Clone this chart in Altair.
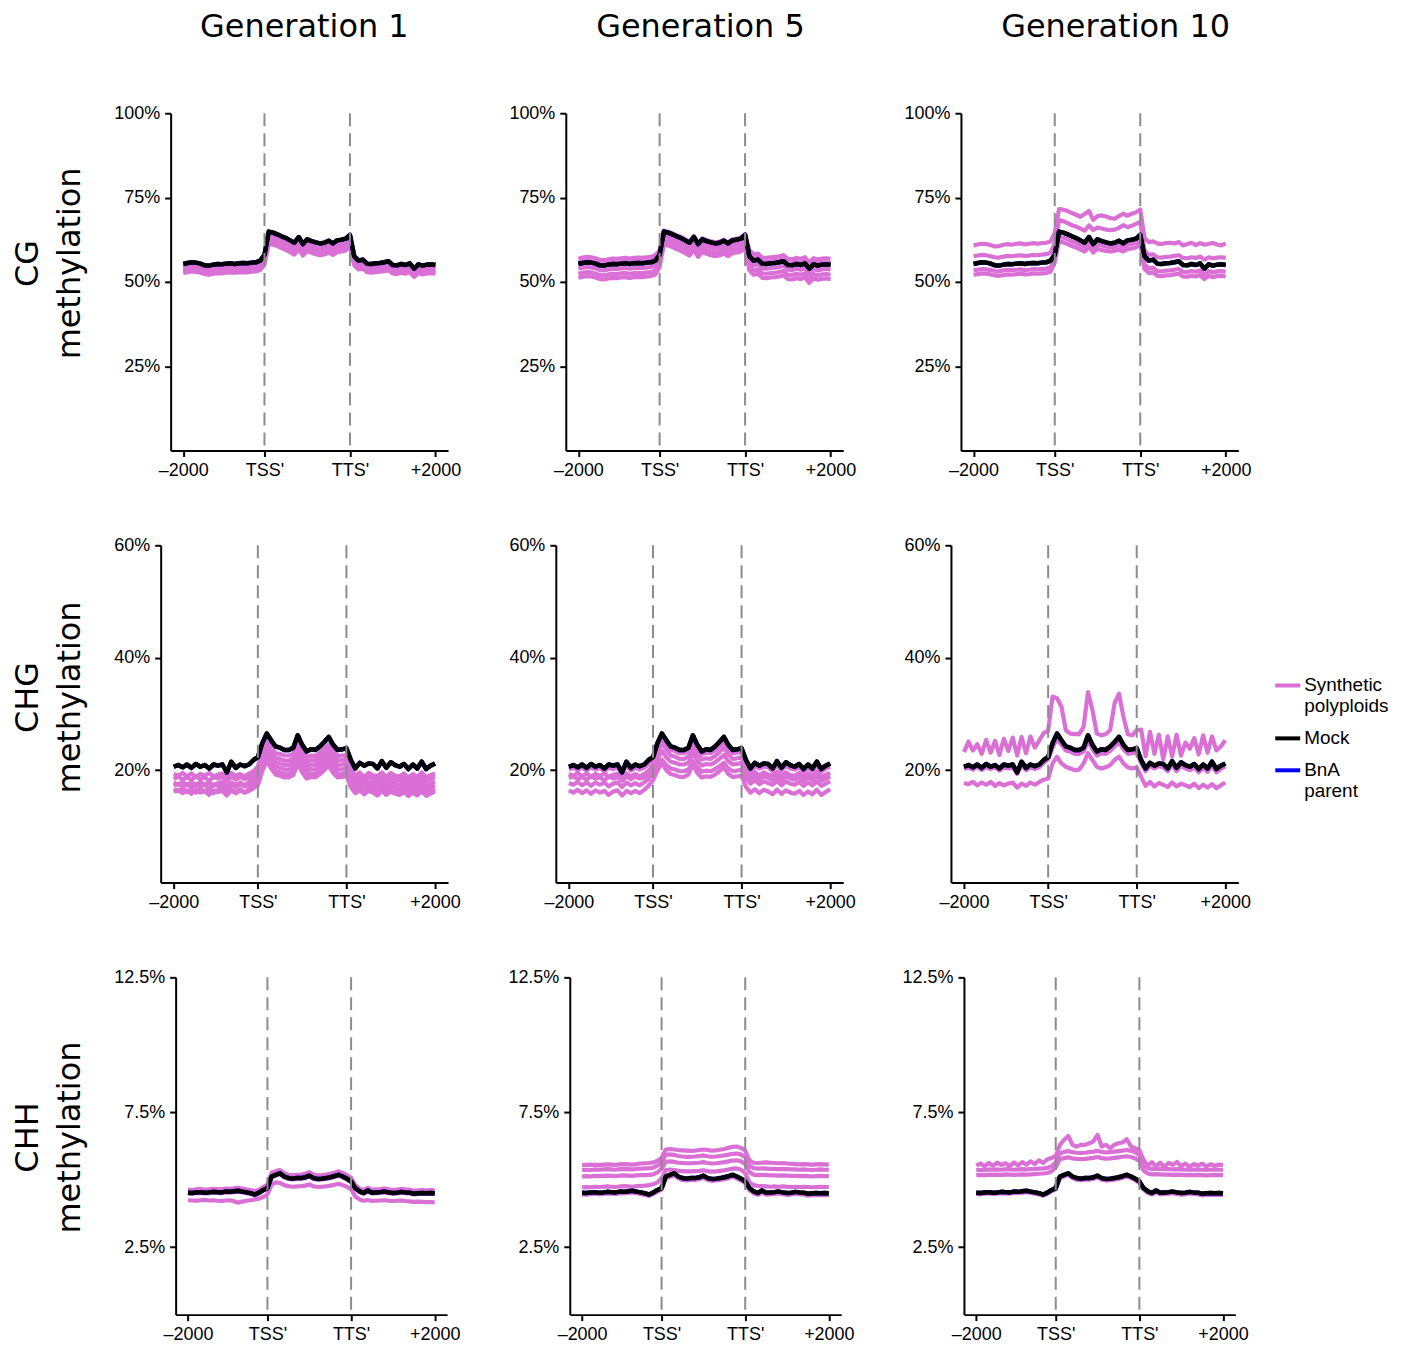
import altair as alt
import pandas as pd

# ---------------- categories / labels ----------------
contexts = ["CG", "CHG", "CHH"]
generations = ["Generation 1", "Generation 5", "Generation 10"]
groups = ["Synthetic polyploids", "Mock", "BnA parent"]
group_colors = ["#DA70D6", "#000000", "#0000FF"]
row_titles = {"CG": ["CG", "methylation"], "CHG": ["CHG", "methylation"], "CHH": ["CHH", "methylation"]}
x_tick_bins = [1, 20, 40, 60]
x_tick_labels = ["\u20132000", "TSS'", "TTS'", "+2000"]
boundary_bins = [20, 40]
y_domains = {"CG": [0, 100], "CHG": [0, 60], "CHH": [0, 12.5]}
y_ticks = {"CG": [25, 50, 75, 100], "CHG": [20, 40, 60], "CHH": [2.5, 7.5, 12.5]}

# ---------------- Mock (same in every generation) ----------------
mock_cg = [55.3, 55.6, 55.8, 55.7, 55.4, 54.9, 54.8, 55.1, 55.3, 55.2, 55.4, 55.5, 55.3, 55.5, 55.6, 55.5, 55.7, 55.8, 56.3,
           58.0,
           64.9, 64.6, 64.1, 63.5, 63.0, 62.3, 61.6, 63.3, 61.2, 62.6, 62.1, 61.7, 61.4, 61.6, 62.2, 61.4, 62.3, 62.5, 62.8,
           63.9,
           57.6, 56.3, 56.6, 55.4, 55.3, 55.5, 55.6, 55.8, 56.1, 55.0, 54.9, 55.3, 55.0, 55.5, 53.9, 55.2, 54.8, 55.1, 55.2, 55.0]
mock_chg = [20.6, 20.9, 20.5, 21.0, 20.4, 21.1, 20.6, 20.9, 20.3, 21.0, 20.8, 21.0, 19.6, 21.5, 20.4, 21.0, 20.7, 21.0, 21.8,
            22.3,
            24.8, 26.5, 25.3, 24.2, 24.0, 23.6, 23.6, 24.0, 26.2, 24.5, 23.3, 23.7, 23.6, 24.2, 25.0, 25.9, 24.5, 23.6, 23.7,
            23.9,
            21.8, 20.3, 21.3, 20.8, 21.2, 21.1, 20.3, 21.6, 20.4, 21.4, 20.9, 20.6, 21.1, 20.2, 21.0, 20.3, 21.5, 20.2, 20.8, 21.2]
mock_chh = [4.52, 4.51, 4.53, 4.54, 4.52, 4.53, 4.55, 4.54, 4.53, 4.56, 4.55, 4.57, 4.59, 4.56, 4.53, 4.50, 4.45, 4.52, 4.62,
            4.69,
            5.12, 5.18, 5.24, 5.12, 5.06, 5.04, 5.06, 5.06, 5.09, 5.15, 5.06, 5.03, 5.04, 5.06, 5.09, 5.13, 5.18, 5.12, 5.04,
            4.94,
            4.69, 4.57, 4.51, 4.60, 4.52, 4.53, 4.54, 4.56, 4.53, 4.51, 4.52, 4.55, 4.53, 4.52, 4.48, 4.50, 4.51, 4.50, 4.51, 4.50]

# BnA parent reads identical to Mock (hidden beneath it)
bna_cg = mock_cg
bna_chg = mock_chg
bna_chh = mock_chh

# ---------------- Synthetic polyploids: CG ----------------
syn_cg_g1 = [
    [54.1, 54.4, 54.5, 54.5, 54.2, 53.8, 53.6, 53.9, 54.1, 54.0, 54.2, 54.3, 54.2, 54.3, 54.4, 54.3, 54.5, 54.6, 55.0,
     57.0,
     63.8, 63.4, 62.8, 62.2, 61.7, 61.0, 60.3, 61.9, 60.0, 61.3, 60.8, 60.4, 60.1, 60.3, 60.9, 60.2, 61.0, 61.2, 61.5,
     62.6,
     56.5, 55.3, 55.5, 54.5, 54.3, 54.5, 54.6, 54.8, 55.0, 54.1, 53.9, 54.3, 54.0, 54.5, 53.1, 54.2, 53.8, 54.1, 54.2, 54.0],
    [53.6, 53.9, 54.1, 54.0, 53.7, 53.3, 53.1, 53.4, 53.6, 53.5, 53.7, 53.8, 53.7, 53.8, 53.9, 53.8, 54.0, 54.1, 54.5,
     56.4,
     63.0, 62.5, 62.0, 61.4, 60.9, 60.2, 59.5, 61.1, 59.2, 60.5, 60.0, 59.6, 59.3, 59.5, 60.1, 59.4, 60.2, 60.4, 60.7,
     61.8,
     55.9, 54.7, 54.9, 53.9, 53.7, 53.9, 54.0, 54.2, 54.4, 53.5, 53.3, 53.7, 53.4, 53.9, 52.5, 53.6, 53.2, 53.5, 53.6, 53.4],
    [53.1, 53.4, 53.6, 53.5, 53.2, 52.8, 52.6, 52.9, 53.1, 53.0, 53.2, 53.3, 53.2, 53.3, 53.4, 53.3, 53.5, 53.6, 54.0,
     55.8,
     62.2, 61.8, 61.3, 60.7, 60.2, 59.5, 58.8, 60.4, 58.5, 59.8, 59.3, 58.9, 58.6, 58.8, 59.4, 58.7, 59.5, 59.7, 60.0,
     61.1,
     55.4, 54.2, 54.4, 53.4, 53.2, 53.4, 53.5, 53.7, 53.9, 53.0, 52.8, 53.2, 52.9, 53.4, 52.0, 53.1, 52.7, 53.0, 53.1, 52.9],
    [52.6, 52.9, 53.1, 53.0, 52.7, 52.3, 52.1, 52.4, 52.6, 52.5, 52.7, 52.8, 52.7, 52.8, 52.9, 52.8, 53.0, 53.1, 53.5,
     55.1,
     61.3, 61.0, 60.6, 60.0, 59.5, 58.8, 58.1, 59.7, 57.8, 59.1, 58.6, 58.2, 57.9, 58.1, 58.7, 58.0, 58.8, 59.0, 59.3,
     60.4,
     54.9, 53.7, 53.9, 52.9, 52.7, 52.9, 53.0, 53.2, 53.4, 52.5, 52.3, 52.7, 52.4, 52.9, 51.5, 52.6, 52.2, 52.5, 52.6, 52.4],
]
syn_cg_g5 = [
    [56.9, 57.2, 57.4, 57.3, 57.0, 56.5, 56.4, 56.7, 56.9, 56.8, 57.0, 57.1, 56.9, 57.1, 57.2, 57.1, 57.3, 57.4, 57.9,
     59.3,
     65.2, 64.9, 64.4, 63.8, 63.3, 62.6, 61.9, 63.6, 61.5, 62.9, 62.4, 62.0, 61.7, 61.9, 62.5, 61.7, 62.6, 62.8, 63.1,
     64.2,
     59.4, 58.1, 58.4, 57.2, 57.1, 57.3, 57.4, 57.6, 57.9, 56.8, 56.7, 57.1, 56.8, 57.3, 55.7, 57.0, 56.6, 56.9, 57.0, 56.8],
    [55.7, 56.0, 56.2, 56.1, 55.8, 55.3, 55.2, 55.5, 55.7, 55.6, 55.8, 55.9, 55.7, 55.9, 56.0, 55.9, 56.1, 56.2, 56.7,
     58.6,
     64.4, 64.1, 63.6, 63.0, 62.5, 61.8, 61.1, 62.8, 60.7, 62.1, 61.6, 61.2, 60.9, 61.1, 61.7, 60.9, 61.8, 62.0, 62.3,
     63.4,
     58.2, 56.9, 57.2, 56.0, 55.9, 56.1, 56.2, 56.4, 56.7, 55.6, 55.5, 55.9, 55.6, 56.1, 54.5, 55.8, 55.4, 55.7, 55.8, 55.6],
    [53.9, 54.2, 54.4, 54.3, 54.0, 53.5, 53.4, 53.7, 53.9, 53.8, 54.0, 54.1, 53.9, 54.1, 54.2, 54.1, 54.3, 54.4, 54.9,
     56.8,
     63.4, 63.1, 62.6, 62.0, 61.5, 60.8, 60.1, 61.8, 59.7, 61.1, 60.6, 60.2, 59.9, 60.1, 60.7, 59.9, 60.8, 61.0, 61.3,
     62.4,
     56.2, 54.9, 55.2, 54.0, 53.9, 54.1, 54.2, 54.4, 54.7, 53.6, 53.5, 53.9, 53.6, 54.1, 52.5, 53.8, 53.4, 53.7, 53.8, 53.6],
    [52.4, 52.7, 52.9, 52.8, 52.5, 52.0, 51.9, 52.2, 52.4, 52.3, 52.5, 52.6, 52.4, 52.6, 52.7, 52.6, 52.8, 52.9, 53.4,
     55.6,
     62.2, 61.9, 61.4, 60.8, 60.3, 59.6, 58.9, 60.6, 58.5, 59.9, 59.4, 59.0, 58.7, 58.9, 59.5, 58.7, 59.6, 59.8, 60.1,
     61.2,
     54.7, 53.4, 53.7, 52.5, 52.4, 52.6, 52.7, 52.9, 53.2, 52.1, 52.0, 52.4, 52.1, 52.6, 51.0, 52.3, 51.9, 52.2, 52.3, 52.1],
    [51.2, 51.5, 51.7, 51.6, 51.3, 50.8, 50.7, 51.0, 51.2, 51.1, 51.3, 51.4, 51.2, 51.4, 51.5, 51.4, 51.6, 51.7, 52.2,
     54.4,
     61.1, 60.8, 60.3, 59.7, 59.2, 58.5, 57.8, 59.5, 57.4, 58.8, 58.3, 57.9, 57.6, 57.8, 58.4, 57.6, 58.5, 58.7, 59.0,
     60.1,
     53.4, 52.1, 52.4, 51.2, 51.1, 51.3, 51.4, 51.6, 51.9, 50.8, 50.7, 51.1, 50.8, 51.3, 49.7, 51.0, 50.6, 50.9, 51.0, 50.8],
]
syn_cg_g10 = [
    [60.8, 61.1, 61.3, 61.2, 60.9, 60.5, 60.6, 61.0, 61.2, 61.0, 61.3, 61.4, 61.1, 61.3, 61.5, 61.3, 61.5, 61.6, 62.0,
     64.5,
     71.6, 71.4, 71.0, 70.4, 69.9, 69.3, 70.1, 71.0, 68.4, 69.5, 69.7, 69.4, 68.9, 68.7, 69.5, 70.2, 69.6, 70.2, 70.6,
     71.5,
     63.0, 61.8, 62.0, 61.4, 61.2, 61.5, 61.6, 61.4, 61.8, 60.8, 61.2, 61.6, 60.9, 61.5, 61.0, 61.3, 61.5, 61.1, 60.8, 61.4],
    [57.6, 57.8, 58.0, 57.9, 57.6, 57.3, 57.2, 57.5, 57.7, 57.6, 57.8, 57.9, 57.7, 57.8, 58.0, 57.9, 58.1, 58.2, 58.6,
     61.5,
     68.3, 68.0, 67.4, 66.8, 66.4, 65.8, 65.2, 66.7, 65.4, 66.1, 65.8, 65.5, 65.3, 65.5, 66.0, 66.8, 66.2, 66.6, 67.2,
     67.8,
     59.2, 58.0, 58.2, 57.3, 57.2, 57.4, 57.5, 57.7, 57.9, 57.1, 57.0, 57.3, 57.1, 57.5, 56.6, 57.3, 57.0, 57.2, 57.3, 57.1],
    [53.4, 53.6, 53.8, 53.7, 53.5, 53.2, 53.1, 53.4, 53.6, 53.5, 53.6, 53.7, 53.5, 53.6, 53.8, 53.7, 53.8, 53.9, 54.3,
     56.8,
     63.4, 63.1, 62.6, 62.0, 61.6, 61.0, 60.4, 61.8, 60.0, 61.2, 60.8, 60.5, 60.2, 60.4, 60.9, 60.3, 61.0, 61.2, 61.5,
     62.6,
     55.2, 54.0, 54.2, 53.2, 53.1, 53.3, 53.4, 53.6, 53.8, 53.0, 52.9, 53.2, 53.0, 53.4, 52.2, 53.2, 52.8, 53.1, 53.2, 53.0],
    [52.1, 52.3, 52.5, 52.4, 52.2, 51.9, 51.8, 52.0, 52.2, 52.1, 52.3, 52.4, 52.2, 52.3, 52.5, 52.4, 52.5, 52.6, 53.0,
     55.8,
     62.0, 61.7, 61.2, 60.6, 60.2, 59.6, 59.0, 60.4, 58.7, 59.8, 59.4, 59.2, 59.0, 59.2, 59.6, 59.0, 59.7, 59.9, 60.2,
     61.3,
     53.8, 52.6, 52.8, 51.8, 51.7, 51.9, 52.0, 52.2, 52.4, 51.6, 51.5, 51.8, 51.6, 52.0, 50.8, 51.8, 51.4, 51.7, 51.8, 51.6],
]

# ---------------- Synthetic polyploids: CHG ----------------
syn_chg_g1 = [
    [19.3, 19.0, 19.5, 18.9, 19.4, 18.8, 19.3, 19.0, 19.5, 18.9, 19.2, 19.4, 18.7, 19.5, 19.0, 19.3, 18.9, 19.4, 19.8,
     20.6,
     23.6, 25.2, 24.0, 23.0, 22.9, 22.6, 22.6, 22.9, 25.0, 23.4, 22.3, 22.6, 22.5, 23.1, 23.9, 24.6, 23.3, 22.5, 22.6,
     22.7,
     20.2, 19.0, 19.6, 18.8, 19.5, 19.1, 18.9, 19.6, 18.8, 19.5, 19.0, 18.9, 19.4, 18.7, 19.3, 18.8, 19.6, 18.7, 19.1, 19.4],
    [18.4, 18.9, 18.3, 18.8, 18.2, 18.9, 18.4, 18.7, 18.1, 18.8, 18.5, 18.8, 18.0, 18.9, 18.3, 18.8, 18.4, 18.7, 19.2,
     20.0,
     22.8, 24.6, 23.3, 22.2, 22.0, 21.7, 21.7, 22.1, 24.2, 22.6, 21.5, 21.8, 21.7, 22.3, 23.1, 23.9, 22.5, 21.7, 21.8,
     22.0,
     19.4, 18.3, 18.9, 18.2, 18.8, 18.5, 18.1, 18.9, 18.2, 18.8, 18.3, 18.2, 18.7, 18.0, 18.6, 18.1, 18.9, 18.0, 18.4, 18.8],
    [17.8, 17.4, 17.9, 17.3, 17.8, 17.2, 17.9, 17.4, 17.8, 17.2, 17.7, 17.9, 17.1, 17.8, 17.4, 17.8, 17.3, 17.9, 18.4,
     19.3,
     22.0, 23.9, 22.5, 21.4, 21.2, 20.9, 20.9, 21.3, 23.5, 21.8, 20.7, 21.0, 20.9, 21.5, 22.3, 23.1, 21.7, 20.9, 21.0,
     21.2,
     18.8, 17.5, 18.2, 17.6, 18.0, 17.7, 17.4, 18.1, 17.3, 18.0, 17.6, 17.4, 17.9, 17.2, 17.8, 17.3, 18.1, 17.2, 17.6, 18.0],
    [17.2, 17.6, 17.0, 17.5, 16.9, 17.6, 17.1, 17.4, 16.7, 17.5, 17.2, 17.4, 16.6, 17.5, 17.0, 17.5, 17.1, 17.4, 17.9,
     18.6,
     21.2, 23.2, 21.8, 20.6, 20.4, 20.1, 20.1, 20.5, 22.7, 21.0, 19.9, 20.2, 20.1, 20.7, 21.5, 22.4, 21.0, 20.1, 20.2,
     20.4,
     18.0, 16.9, 17.4, 16.8, 17.4, 17.1, 16.6, 17.4, 16.7, 17.3, 16.9, 16.7, 17.2, 16.5, 17.1, 16.6, 17.4, 16.5, 16.9, 17.3],
    [16.6, 16.2, 16.7, 16.1, 16.6, 16.0, 16.7, 16.2, 16.6, 15.9, 16.5, 16.7, 15.8, 16.6, 16.1, 16.6, 16.0, 16.6, 17.2,
     17.9,
     20.4, 22.5, 21.0, 19.8, 19.6, 19.3, 19.3, 19.7, 22.0, 20.2, 19.1, 19.4, 19.3, 19.9, 20.7, 21.6, 20.2, 19.3, 19.4,
     19.6,
     17.4, 16.2, 16.8, 16.1, 16.7, 16.3, 15.9, 16.7, 16.0, 16.6, 16.2, 16.0, 16.5, 15.8, 16.4, 15.9, 16.7, 15.8, 16.2, 16.6],
    [16.2, 16.5, 15.9, 16.4, 15.8, 16.5, 16.0, 16.3, 15.6, 16.4, 16.1, 16.3, 15.5, 16.4, 15.9, 16.4, 16.0, 16.3, 16.8,
     17.3,
     19.8, 21.6, 20.3, 19.2, 19.0, 18.7, 18.7, 19.1, 21.2, 19.6, 18.5, 18.8, 18.7, 19.3, 20.0, 20.8, 19.5, 18.7, 18.8,
     19.0,
     17.0, 15.9, 16.4, 15.7, 16.3, 16.0, 15.5, 16.3, 15.6, 16.2, 15.8, 15.6, 16.1, 15.4, 16.0, 15.5, 16.3, 15.4, 15.8, 16.2],
]
syn_chg_g5 = [
    [20.1, 20.4, 20.0, 20.5, 19.9, 20.5, 20.1, 20.4, 19.8, 20.4, 20.2, 20.4, 19.3, 20.8, 19.9, 20.4, 20.1, 20.4, 21.1,
     21.8,
     24.1, 25.6, 24.5, 23.6, 23.4, 23.0, 23.0, 23.4, 25.3, 23.8, 22.8, 23.1, 23.0, 23.5, 24.2, 25.0, 23.8, 23.0, 23.1,
     23.3,
     21.2, 19.8, 20.7, 20.3, 20.6, 20.5, 19.8, 21.0, 19.9, 20.8, 20.3, 20.1, 20.5, 19.7, 20.4, 19.8, 20.9, 19.7, 20.3, 20.6],
    [19.3, 19.0, 19.5, 18.9, 19.4, 18.8, 19.3, 19.0, 19.4, 18.8, 19.2, 19.3, 18.6, 19.4, 18.9, 19.3, 18.9, 19.3, 19.9,
     20.9,
     23.2, 24.8, 23.6, 22.6, 22.4, 22.0, 22.0, 22.4, 24.3, 22.9, 21.9, 22.1, 22.0, 22.5, 23.2, 24.0, 22.8, 22.0, 22.1,
     22.3,
     20.3, 19.1, 19.7, 19.0, 19.6, 19.2, 19.0, 19.7, 18.9, 19.6, 19.1, 19.0, 19.5, 18.8, 19.4, 18.9, 19.7, 18.8, 19.2, 19.5],
    [18.6, 18.9, 18.4, 18.8, 18.3, 18.9, 18.5, 18.7, 18.2, 18.8, 18.5, 18.7, 18.1, 18.9, 18.4, 18.8, 18.5, 18.7, 19.2,
     20.0,
     22.0, 23.4, 22.3, 21.5, 21.3, 21.0, 21.0, 21.3, 23.0, 21.7, 20.8, 21.1, 21.0, 21.4, 22.0, 22.7, 21.6, 21.0, 21.1,
     21.3,
     19.5, 18.4, 19.0, 18.3, 18.9, 18.6, 18.2, 18.9, 18.2, 18.9, 18.5, 18.3, 18.8, 18.1, 18.7, 18.2, 18.9, 18.1, 18.5, 18.9],
    [17.7, 17.4, 17.9, 17.3, 17.8, 17.2, 17.8, 17.4, 17.8, 17.1, 17.6, 17.8, 17.0, 17.8, 17.3, 17.7, 17.3, 17.8, 18.4,
     19.6,
     20.8, 21.9, 20.9, 20.3, 20.1, 19.8, 19.8, 20.1, 21.6, 20.5, 19.7, 19.9, 19.8, 20.2, 20.7, 21.3, 20.3, 19.8, 19.9,
     20.1,
     18.6, 17.6, 18.2, 17.5, 18.0, 17.7, 17.4, 18.1, 17.3, 18.0, 17.6, 17.4, 17.9, 17.2, 17.8, 17.3, 18.0, 17.2, 17.6, 18.0],
    [16.4, 16.0, 16.5, 15.9, 16.4, 15.8, 16.4, 16.0, 16.3, 15.6, 16.2, 16.4, 15.5, 16.3, 15.9, 16.3, 15.9, 16.5, 17.2,
     18.2,
     19.9, 21.3, 20.0, 19.3, 19.1, 18.8, 18.8, 19.2, 21.0, 19.5, 18.7, 18.9, 18.8, 19.2, 19.8, 20.5, 19.3, 18.8, 18.9,
     19.0,
     17.0, 16.0, 16.6, 15.9, 16.5, 16.2, 15.7, 16.5, 15.8, 16.4, 16.0, 15.8, 16.3, 15.6, 16.2, 15.7, 16.5, 15.6, 16.1, 16.6],
]
syn_chg_g10 = [
    [23.2, 25.1, 23.5, 24.6, 22.9, 25.4, 23.1, 25.2, 22.7, 25.6, 23.4, 25.8, 22.6, 25.9, 23.0, 26.0, 24.0, 25.3, 26.6,
     27.0,
     33.1, 32.8, 31.3, 27.1, 26.5, 26.4, 26.4, 27.7, 33.9, 30.7, 26.5, 26.2, 26.4, 27.1, 31.9, 33.6, 29.5, 26.4, 26.2,
     27.1,
     27.2, 22.5, 26.8, 22.9, 26.3, 21.9, 26.0, 22.4, 26.3, 22.6, 24.9, 23.8, 25.7, 22.8, 26.2, 23.1, 26.0, 23.5, 24.2, 25.3],
    [20.2, 20.5, 20.1, 20.6, 20.0, 20.6, 20.2, 20.5, 19.9, 20.5, 20.3, 20.5, 19.3, 20.9, 20.0, 20.5, 20.2, 20.5, 21.3,
     21.9,
     24.0, 25.6, 24.5, 23.5, 23.3, 22.9, 22.9, 23.3, 25.2, 23.7, 22.6, 23.0, 22.9, 23.4, 24.2, 25.0, 23.7, 22.9, 23.0,
     23.1,
     21.2, 19.8, 20.8, 20.3, 20.7, 20.5, 19.8, 21.0, 19.8, 20.8, 20.3, 20.0, 20.5, 19.6, 20.4, 19.7, 20.9, 19.6, 20.2, 20.7],
    [17.7, 17.5, 17.9, 17.3, 17.8, 17.4, 17.9, 17.2, 17.7, 17.3, 17.6, 17.8, 16.9, 17.6, 17.2, 17.8, 17.4, 17.9, 18.3,
     18.5,
     21.2, 22.4, 21.2, 20.6, 20.3, 20.0, 20.1, 21.2, 23.0, 21.8, 20.6, 20.3, 20.5, 20.9, 21.8, 22.4, 21.2, 20.5, 20.3,
     20.5,
     18.8, 17.2, 17.9, 17.1, 17.7, 17.4, 17.0, 17.8, 17.1, 17.6, 17.3, 17.0, 17.6, 16.8, 17.4, 16.9, 17.5, 16.8, 17.3, 17.8],
]

# ---------------- Synthetic polyploids: CHH ----------------
syn_chh_g1 = [
    [4.63, 4.62, 4.64, 4.65, 4.63, 4.64, 4.66, 4.65, 4.64, 4.67, 4.66, 4.68, 4.70, 4.67, 4.64, 4.62, 4.57, 4.63, 4.73,
     4.82,
     5.26, 5.32, 5.36, 5.24, 5.18, 5.16, 5.18, 5.18, 5.22, 5.28, 5.19, 5.16, 5.17, 5.19, 5.22, 5.26, 5.31, 5.25, 5.17,
     5.07,
     4.80, 4.68, 4.62, 4.70, 4.63, 4.64, 4.65, 4.67, 4.64, 4.62, 4.63, 4.66, 4.64, 4.63, 4.59, 4.61, 4.62, 4.61, 4.62, 4.61],
    [4.49, 4.48, 4.50, 4.51, 4.49, 4.50, 4.52, 4.51, 4.50, 4.53, 4.52, 4.54, 4.56, 4.53, 4.50, 4.47, 4.42, 4.49, 4.59,
     4.66,
     5.09, 5.15, 5.21, 5.09, 5.03, 5.01, 5.03, 5.03, 5.06, 5.12, 5.03, 5.00, 5.01, 5.03, 5.06, 5.10, 5.15, 5.09, 5.01,
     4.91,
     4.66, 4.54, 4.48, 4.57, 4.49, 4.50, 4.51, 4.53, 4.50, 4.48, 4.49, 4.52, 4.50, 4.49, 4.45, 4.47, 4.48, 4.47, 4.48, 4.47],
    [4.24, 4.23, 4.22, 4.24, 4.25, 4.23, 4.24, 4.22, 4.21, 4.23, 4.24, 4.20, 4.15, 4.19, 4.22, 4.24, 4.27, 4.30, 4.36,
     4.45,
     4.82, 4.90, 4.88, 4.80, 4.76, 4.74, 4.75, 4.76, 4.78, 4.82, 4.76, 4.73, 4.74, 4.75, 4.78, 4.81, 4.85, 4.80, 4.74,
     4.64,
     4.38, 4.27, 4.22, 4.25, 4.21, 4.22, 4.23, 4.24, 4.22, 4.21, 4.22, 4.23, 4.21, 4.20, 4.18, 4.19, 4.18, 4.17, 4.17, 4.16],
]
syn_chh_g5 = [
    [5.54, 5.55, 5.56, 5.55, 5.54, 5.56, 5.57, 5.56, 5.55, 5.57, 5.58, 5.57, 5.56, 5.58, 5.60, 5.61, 5.62, 5.64, 5.70,
     5.82,
     6.12, 6.14, 6.12, 6.10, 6.09, 6.08, 6.07, 6.08, 6.10, 6.12, 6.10, 6.08, 6.09, 6.11, 6.14, 6.18, 6.22, 6.23, 6.18,
     6.08,
     5.72, 5.63, 5.62, 5.63, 5.64, 5.63, 5.62, 5.61, 5.62, 5.60, 5.59, 5.58, 5.57, 5.58, 5.57, 5.56, 5.57, 5.58, 5.57, 5.56],
    [5.36, 5.37, 5.36, 5.38, 5.37, 5.38, 5.39, 5.38, 5.37, 5.39, 5.40, 5.39, 5.38, 5.40, 5.41, 5.42, 5.43, 5.45, 5.52,
     5.63,
     5.92, 5.94, 5.92, 5.88, 5.86, 5.85, 5.85, 5.86, 5.88, 5.90, 5.87, 5.85, 5.86, 5.88, 5.90, 5.93, 5.96, 5.97, 5.93,
     5.84,
     5.52, 5.43, 5.41, 5.42, 5.41, 5.40, 5.40, 5.39, 5.40, 5.39, 5.38, 5.38, 5.37, 5.38, 5.37, 5.36, 5.37, 5.38, 5.37, 5.37],
    [5.12, 5.13, 5.12, 5.14, 5.13, 5.14, 5.15, 5.14, 5.13, 5.15, 5.16, 5.15, 5.14, 5.16, 5.17, 5.17, 5.18, 5.20, 5.27,
     5.40,
     5.66, 5.68, 5.66, 5.63, 5.62, 5.61, 5.61, 5.62, 5.63, 5.65, 5.62, 5.60, 5.61, 5.63, 5.65, 5.68, 5.71, 5.72, 5.68,
     5.58,
     5.28, 5.19, 5.17, 5.18, 5.17, 5.16, 5.16, 5.15, 5.16, 5.15, 5.14, 5.14, 5.13, 5.14, 5.13, 5.12, 5.13, 5.14, 5.13, 5.13],
    [4.72, 4.73, 4.72, 4.74, 4.73, 4.74, 4.75, 4.74, 4.73, 4.75, 4.76, 4.75, 4.74, 4.76, 4.77, 4.78, 4.80, 4.83, 4.90,
     5.05,
     5.36, 5.38, 5.36, 5.33, 5.32, 5.31, 5.31, 5.32, 5.33, 5.35, 5.32, 5.30, 5.31, 5.33, 5.35, 5.38, 5.41, 5.42, 5.37,
     5.24,
     4.90, 4.80, 4.77, 4.76, 4.75, 4.74, 4.75, 4.74, 4.75, 4.74, 4.73, 4.74, 4.73, 4.74, 4.73, 4.72, 4.73, 4.74, 4.73, 4.73],
    [4.46, 4.45, 4.47, 4.48, 4.46, 4.47, 4.49, 4.48, 4.47, 4.50, 4.49, 4.51, 4.53, 4.50, 4.47, 4.44, 4.40, 4.47, 4.56,
     4.63,
     5.05, 5.11, 5.17, 5.05, 4.99, 4.97, 4.99, 4.99, 5.02, 5.08, 4.99, 4.96, 4.97, 4.99, 5.02, 5.06, 5.11, 5.05, 4.97,
     4.87,
     4.62, 4.50, 4.44, 4.53, 4.45, 4.46, 4.47, 4.49, 4.46, 4.44, 4.45, 4.48, 4.46, 4.45, 4.41, 4.43, 4.44, 4.43, 4.44, 4.43],
]
syn_chh_g10 = [
    [5.52, 5.60, 5.50, 5.62, 5.52, 5.63, 5.55, 5.61, 5.50, 5.64, 5.53, 5.65, 5.56, 5.68, 5.58, 5.72, 5.62, 5.76, 5.80,
     5.88,
     6.29, 6.48, 6.62, 6.29, 6.23, 6.29, 6.29, 6.35, 6.42, 6.66, 6.23, 6.29, 6.17, 6.29, 6.35, 6.38, 6.50, 6.23, 6.17,
     6.10,
     5.74, 5.52, 5.65, 5.50, 5.63, 5.48, 5.62, 5.55, 5.66, 5.50, 5.60, 5.47, 5.58, 5.52, 5.60, 5.49, 5.57, 5.52, 5.56, 5.55],
    [5.36, 5.37, 5.36, 5.38, 5.37, 5.38, 5.37, 5.39, 5.38, 5.37, 5.38, 5.39, 5.38, 5.39, 5.40, 5.41, 5.42, 5.44, 5.50,
     5.65,
     5.98, 6.03, 6.06, 6.02, 6.00, 5.99, 6.00, 6.02, 6.04, 6.07, 6.03, 6.01, 6.02, 6.04, 6.06, 6.08, 6.10, 6.07, 6.02,
     5.92,
     5.55, 5.43, 5.40, 5.41, 5.40, 5.39, 5.39, 5.38, 5.39, 5.38, 5.37, 5.38, 5.37, 5.38, 5.37, 5.36, 5.37, 5.38, 5.37, 5.37],
    [5.17, 5.18, 5.17, 5.19, 5.18, 5.19, 5.18, 5.20, 5.19, 5.18, 5.19, 5.20, 5.19, 5.20, 5.21, 5.22, 5.23, 5.25, 5.31,
     5.46,
     5.76, 5.80, 5.83, 5.79, 5.77, 5.76, 5.77, 5.79, 5.81, 5.84, 5.80, 5.78, 5.79, 5.81, 5.83, 5.85, 5.87, 5.84, 5.79,
     5.70,
     5.34, 5.23, 5.20, 5.21, 5.20, 5.19, 5.19, 5.18, 5.19, 5.18, 5.17, 5.18, 5.17, 5.18, 5.17, 5.16, 5.17, 5.18, 5.17, 5.17],
    [4.47, 4.46, 4.48, 4.49, 4.47, 4.48, 4.50, 4.49, 4.48, 4.51, 4.50, 4.52, 4.54, 4.51, 4.48, 4.45, 4.41, 4.48, 4.57,
     4.64,
     5.06, 5.12, 5.18, 5.06, 5.00, 4.98, 5.00, 5.00, 5.03, 5.09, 5.00, 4.97, 4.98, 5.00, 5.03, 5.07, 5.12, 5.06, 4.98,
     4.88,
     4.63, 4.51, 4.45, 4.54, 4.46, 4.47, 4.48, 4.50, 4.47, 4.45, 4.46, 4.49, 4.47, 4.46, 4.42, 4.44, 4.45, 4.44, 4.45, 4.44],
]

mock_by_ctx = {"CG": mock_cg, "CHG": mock_chg, "CHH": mock_chh}
bna_by_ctx = {"CG": bna_cg, "CHG": bna_chg, "CHH": bna_chh}
synthetic = {
    "CG": {"Generation 1": syn_cg_g1, "Generation 5": syn_cg_g5, "Generation 10": syn_cg_g10},
    "CHG": {"Generation 1": syn_chg_g1, "Generation 5": syn_chg_g5, "Generation 10": syn_chg_g10},
    "CHH": {"Generation 1": syn_chh_g1, "Generation 5": syn_chh_g5, "Generation 10": syn_chh_g10},
}

# ---------------- long table ----------------
records = []


def add_line(ctx, gen, group, line_id, values):
    for i, v in enumerate(values):
        records.append({"ctx": ctx, "gen": gen, "group": group, "line": line_id, "bin": i + 1, "value": v})


for ctx in contexts:
    for gen in generations:
        for k, vals in enumerate(synthetic[ctx][gen]):
            add_line(ctx, gen, "Synthetic polyploids", f"s{k}", vals)
        add_line(ctx, gen, "BnA parent", "bna", bna_by_ctx[ctx])
        add_line(ctx, gen, "Mock", "mock", mock_by_ctx[ctx])
df = pd.DataFrame(records)

# ---------------- styling / layout ----------------
panel_width = {"CG": 278, "CHG": 288, "CHH": 272}
panel_height = 338
title_y = {"CG": 150, "CHG": 152, "CHH": 160}
title_dx = {"Generation 1": -5, "Generation 5": -4, "Generation 10": 16}

x_label_expr = " : ".join(
    f'datum.value == {b} ? "{lab}"' for b, lab in zip(x_tick_bins[:-1], x_tick_labels[:-1])
) + f' : "{x_tick_labels[-1]}"'

NB = "\u00a0"
legend_label_expr = (
    "datum.label == 'Synthetic polyploids' ? ['Synthetic', 'polyploids'] : "
    f"datum.label == 'Mock' ? '{NB}{NB}{NB}Mock' : ['{NB}{NB}{NB}BnA', '{NB}{NB}{NB}parent']"
)

legend = alt.Legend(
    title=None, orient="none", legendX=1269, legendY=559,
    symbolType="stroke", symbolStrokeWidth=4, symbolSize=625,
    labelFont="Liberation Sans", labelFontSize=19, labelColor="black",
    labelExpr=legend_label_expr, rowPadding=7, labelOffset=2,
)
color = alt.Color("group:N", scale=alt.Scale(domain=groups, range=group_colors), legend=legend)


def make_panel(ctx, gen, ci, ri):
    d = df[(df.ctx == ctx) & (df.gen == gen)]
    x = alt.X(
        "bin:Q", title=None,
        scale=alt.Scale(domain=[-1.95, 62.95], nice=False, zero=False),
        axis=alt.Axis(values=x_tick_bins, labelExpr=x_label_expr, labelFlush=False, labelOverlap=False),
    )
    yaxis_kw = dict(values=y_ticks[ctx], labelExpr="datum.value + '%'", labelFlush=False, labelOverlap=False)
    if ci == 0:
        yaxis_kw.update(
            title=row_titles[ctx], titleFont="DejaVu Sans", titleFontSize=32, titleFontWeight="normal",
            titleColor="black", titleLineHeight=42, titlePadding=27, titleY=title_y[ctx],
        )
    else:
        yaxis_kw.update(title=None)
    y = alt.Y("value:Q", scale=alt.Scale(domain=y_domains[ctx], nice=False, zero=False), axis=alt.Axis(**yaxis_kw))

    pink = alt.Chart(d[d.group == "Synthetic polyploids"]).mark_line(
        strokeWidth=4.2, strokeJoin="round").encode(x=x, y=y, color=color, detail="line:N")
    blue = alt.Chart(d[d.group == "BnA parent"]).mark_line(
        strokeWidth=4.5, strokeJoin="round").encode(x=x, y=y, color=color)
    black = alt.Chart(d[d.group == "Mock"]).mark_line(
        strokeWidth=4.5, strokeJoin="round").encode(x=x, y=y, color=color)
    rules = alt.Chart(pd.DataFrame({"bin": boundary_bins})).mark_rule(
        color="#8c8c8c", strokeWidth=2, strokeDash=[13, 7]).encode(x=x)

    props = dict(width=panel_width[ctx], height=panel_height)
    if ri == 0:
        props["title"] = alt.TitleParams(
            text=gen, font="DejaVu Sans", fontSize=32, fontWeight="normal", color="black",
            anchor="middle", frame="group", offset=60, dx=title_dx[gen],
        )
    return alt.layer(pink, blue, black, rules).properties(**props)


def spacer():
    # invisible 1px anchor so that each row is aligned on its left edge (like the original grid)
    return alt.Chart(pd.DataFrame({"v": [0]})).mark_point(opacity=0).properties(width=1, height=1)


rows = []
for ri, ctx in enumerate(contexts):
    panels = alt.hconcat(*[make_panel(ctx, gen, ci, ri) for ci, gen in enumerate(generations)], spacing=47)
    rows.append(alt.hconcat(spacer(), panels, spacing=0))

chart = alt.concat(*rows, columns=1, spacing=57, align="none").properties(
    padding={"left": -4, "top": 2, "right": 5, "bottom": 5}
).configure_view(stroke=None).configure_axis(
    domainColor="black", domainWidth=2, tickColor="black", tickWidth=2, tickSize=6,
    labelFont="Liberation Sans", labelFontSize=18, labelColor="black", labelPadding=5, grid=False,
)

chart.save("out.html", embed_options={"renderer": "svg", "actions": False})
